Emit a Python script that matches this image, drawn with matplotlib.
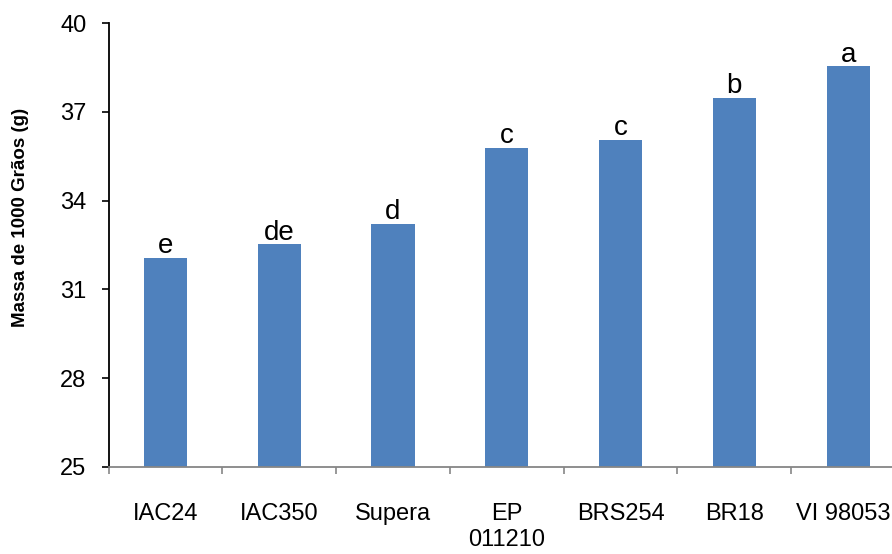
import matplotlib
matplotlib.use("Agg")
import matplotlib.pyplot as plt
import matplotlib.transforms as mtransforms
import numpy as np

categories = ["IAC24", "IAC350", "Supera", "EP\n011210", "BRS254", "BR18", "VI 98053"]
values = [32.06, 32.53, 33.21, 35.78, 36.05, 37.47, 38.55]
letters = ["e", "de", "d", "c", "c", "b", "a"]
yticks = [25, 28, 31, 34, 37, 40]
ylabel = "Massa de 1000 Grãos (g)"

plt.rcParams['font.family'] = ['Liberation Sans', 'DejaVu Sans']

fig = plt.figure(figsize=(8.92, 5.54), dpi=100)
ax = fig.add_axes([0.1217, 0.1576, 0.8929, 0.8003])

x = np.arange(len(categories))
ax.bar(x, values, width=0.38, color="#4F81BD")
ax.set_xlim(-0.5, len(categories) - 0.5)
ax.set_ylim(25, 40)
ax.set_yticks(yticks)
ax.set_yticklabels([str(t) for t in yticks], fontsize=17)

for xi, v, l in zip(x, values, letters):
    ax.annotate(l, (xi, v), xytext=(0, -1), textcoords="offset points",
                ha="center", va="bottom", fontsize=20)

ax.set_xticks(x)
ax.set_xticklabels(categories, fontsize=17, linespacing=1.27, va="top")
ax.tick_params(axis="x", which="major", length=0, pad=26)
ax.set_xticks(np.arange(len(categories) + 1) - 0.5, minor=True)
ax.tick_params(axis="x", which="minor", length=5, color="#868686", width=1.2)
ax.tick_params(axis="y", which="major", length=5, width=1.2, color="black", pad=11)

# nudge the last label slightly left so it stays inside the figure
last = ax.get_xticklabels()[-1]
last.set_transform(last.get_transform() +
                   mtransforms.ScaledTranslation(-5 / 100, 0, fig.dpi_scale_trans))

for s in ["top", "right"]:
    ax.spines[s].set_visible(False)
ax.spines["left"].set_linewidth(1.3)
ax.spines["bottom"].set_color("#868686")
ax.spines["bottom"].set_linewidth(1.3)

ax.set_ylabel(ylabel, fontsize=13.5, fontweight="bold")
ax.yaxis.set_label_coords(-0.1, 0.562)

fig.savefig("out.png", dpi=100)
